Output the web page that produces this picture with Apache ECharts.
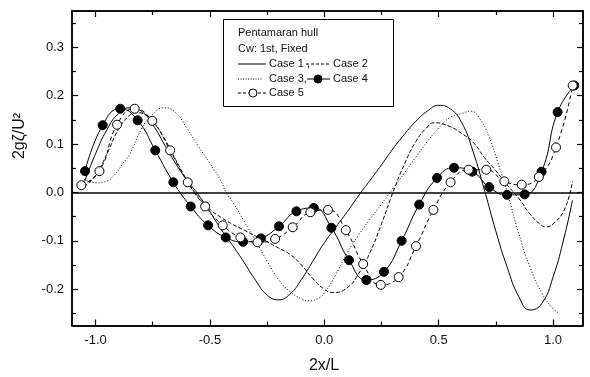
<!DOCTYPE html>
<html>
<head>
<meta charset="utf-8">
<script src="https://cdn.jsdelivr.net/npm/echarts@6/dist/echarts.min.js"></script>
<style>
html,body{margin:0;padding:0;background:#fff;}
#c{width:590px;height:377px;}
</style>
</head>
<body>
<div id="c"></div>
<script>
// ---- data ----
const case1X = [-1.05,-1.0,-0.95,-0.9,-0.85,-0.8,-0.75,-0.7,-0.65,-0.6,-0.55,-0.5,-0.45,-0.4,-0.35,-0.3,-0.25,-0.2,-0.15,-0.1,-0.05,0.0,0.05,0.1,0.16,0.2,0.25,0.3,0.35,0.4,0.45,0.5,0.55,0.6,0.65,0.7,0.75,0.8,0.85,0.9,0.95,1.0,1.05,1.085];
const case1Y = [0.02,0.08,0.13,0.163,0.175,0.168,0.14,0.1,0.06,0.025,-0.005,-0.04,-0.077,-0.11,-0.145,-0.182,-0.212,-0.222,-0.21,-0.18,-0.142,-0.104,-0.072,-0.04,0.0,0.025,0.057,0.09,0.12,0.147,0.168,0.18,0.173,0.145,0.085,0.005,-0.08,-0.155,-0.215,-0.243,-0.23,-0.175,-0.09,-0.016];

const case2X = [-1.05,-1.0,-0.95,-0.9,-0.85,-0.82,-0.78,-0.75,-0.7,-0.65,-0.6,-0.55,-0.5,-0.45,-0.4,-0.35,-0.3,-0.25,-0.2,-0.15,-0.1,-0.05,0.0,0.04,0.1,0.15,0.2,0.25,0.3,0.35,0.4,0.45,0.48,0.55,0.6,0.65,0.7,0.75,0.8,0.85,0.9,0.95,0.97,1.0,1.05,1.085];
const case2Y = [0.012,0.035,0.08,0.13,0.16,0.165,0.16,0.148,0.112,0.068,0.025,-0.01,-0.035,-0.052,-0.066,-0.078,-0.09,-0.102,-0.115,-0.128,-0.15,-0.178,-0.2,-0.207,-0.197,-0.168,-0.124,-0.065,0.0,0.058,0.105,0.135,0.144,0.136,0.122,0.104,0.072,0.045,0.015,-0.012,-0.045,-0.068,-0.071,-0.065,-0.035,0.023];

const case3X = [-1.05,-1.0,-0.96,-0.92,-0.88,-0.85,-0.8,-0.75,-0.7,-0.65,-0.6,-0.55,-0.5,-0.45,-0.43,-0.4,-0.35,-0.3,-0.25,-0.2,-0.15,-0.1,-0.07,-0.03,0.0,0.05,0.1,0.15,0.2,0.25,0.3,0.35,0.4,0.45,0.5,0.55,0.6,0.64,0.68,0.72,0.76,0.8,0.85,0.9,0.95,1.0,1.03];
const case3Y = [0.027,0.02,0.022,0.035,0.06,0.08,0.13,0.162,0.175,0.165,0.132,0.095,0.06,0.022,0.0,-0.02,-0.06,-0.1,-0.142,-0.18,-0.205,-0.22,-0.224,-0.22,-0.208,-0.17,-0.125,-0.088,-0.055,-0.024,0.008,0.04,0.073,0.105,0.133,0.155,0.163,0.168,0.152,0.115,0.06,0.0,-0.085,-0.155,-0.207,-0.24,-0.25];

const case4X = [-1.046,-0.969,-0.892,-0.816,-0.739,-0.660,-0.584,-0.508,-0.431,-0.355,-0.277,-0.198,-0.122,-0.046,0.031,0.108,0.184,0.261,0.338,0.415,0.493,0.567,0.647,0.721,0.799,0.876,0.950,1.020,1.093];
const case4Y = [0.044,0.139,0.173,0.149,0.087,0.021,-0.029,-0.068,-0.093,-0.102,-0.095,-0.070,-0.039,-0.032,-0.073,-0.140,-0.181,-0.164,-0.100,-0.025,0.030,0.051,0.043,0.011,-0.005,-0.004,0.043,0.166,0.221];

const case5X = [-1.062,-0.983,-0.906,-0.829,-0.752,-0.674,-0.597,-0.521,-0.444,-0.367,-0.292,-0.215,-0.138,-0.061,0.016,0.094,0.170,0.247,0.325,0.401,0.477,0.552,0.631,0.708,0.787,0.863,0.938,1.013,1.086];
const case5Y = [0.015,0.044,0.140,0.173,0.148,0.087,0.021,-0.029,-0.068,-0.093,-0.103,-0.096,-0.072,-0.041,-0.036,-0.078,-0.148,-0.191,-0.175,-0.111,-0.036,0.021,0.047,0.047,0.023,0.016,0.032,0.093,0.221];

const xMajor = [-1.0,-0.5,0.0,0.5,1.0];
const xMinor = [-0.75,-0.25,0.25,0.75];
const yMajor = [-0.2,-0.1,0.0,0.1,0.2,0.3];
const yMinor = [-0.25,-0.15,-0.05,0.05,0.15,0.25,0.35];

const xMin = -1.103, xMax = 1.131;
const yMin = -0.275, yMax = 0.375;

const zip = (xs, ys) => xs.map((x, i) => [x, ys[i]]);
const FONT = '"Liberation Sans", Arial, sans-serif';

function xAx(pos, ticks, len, labels) {
  return {
    type: 'value', position: pos, min: xMin, max: xMax, gridIndex: 0,
    axisLine: { show: true, onZero: false, lineStyle: { color: '#000', width: 1.5 } },
    axisTick: { show: true, inside: true, length: len, customValues: ticks, lineStyle: { color: '#000', width: 1.2 } },
    axisLabel: labels ? { show: true, customValues: ticks, formatter: v => v.toFixed(1), color: '#111', fontSize: 13, fontFamily: FONT, margin: 8 } : { show: false },
    splitLine: { show: false }
  };
}
function yAx(pos, ticks, len, labels) {
  return {
    type: 'value', position: pos, min: yMin, max: yMax, gridIndex: 0,
    axisLine: { show: true, onZero: false, lineStyle: { color: '#000', width: 1.5 } },
    axisTick: { show: true, inside: true, length: len, customValues: ticks, lineStyle: { color: '#000', width: 1.2 } },
    axisLabel: labels ? { show: true, customValues: ticks, formatter: v => v.toFixed(1), color: '#111', fontSize: 13, fontFamily: FONT, margin: 8 } : { show: false },
    splitLine: { show: false }
  };
}

const chart = echarts.init(document.getElementById('c'), null, { renderer: 'canvas' });
const lineBase = { type: 'line', xAxisIndex: 0, yAxisIndex: 0, smooth: 0.5, animation: false };
const T = (txt, x, y) => ({ type: 'text', position: [x, y], z: 11, style: { text: txt, fontSize: 11, fontFamily: FONT, fill: '#111', align: 'left', verticalAlign: 'middle' } });

chart.setOption({
  backgroundColor: '#fff',
  animation: false,
  grid: { left: 72, right: 7, top: 11, bottom: 51.5, containLabel: false },
  xAxis: [xAx('bottom', xMajor, 6, true), xAx('bottom', xMinor, 4, false), xAx('top', xMajor, 6, false), xAx('top', xMinor, 4, false)],
  yAxis: [yAx('left', yMajor, 6, true), yAx('left', yMinor, 4, false), yAx('right', yMajor, 6, false), yAx('right', yMinor, 4, false)],
  series: [
    Object.assign({}, lineBase, { name: 'Case 1', data: zip(case1X, case1Y), showSymbol: false, symbol: 'none',
      lineStyle: { color: '#000', width: 1, type: 'solid' },
      markLine: { silent: true, symbol: ['none', 'none'], label: { show: false }, lineStyle: { color: '#000', width: 1.6, type: 'solid' }, data: [{ yAxis: 0 }] } }),
    Object.assign({}, lineBase, { name: 'Case 2', data: zip(case2X, case2Y), showSymbol: false, symbol: 'none',
      lineStyle: { color: '#000', width: 1, type: [4, 2] } }),
    Object.assign({}, lineBase, { name: 'Case 3', data: zip(case3X, case3Y), showSymbol: false, symbol: 'none',
      lineStyle: { color: '#000', width: 1, type: [1, 2] } }),
    Object.assign({}, lineBase, { name: 'Case 4', data: zip(case4X, case4Y), symbol: 'circle', symbolSize: 9, showSymbol: true,
      itemStyle: { color: '#000', borderColor: '#000', borderWidth: 1 },
      lineStyle: { color: '#000', width: 1, type: 'solid' } }),
    Object.assign({}, lineBase, { name: 'Case 5', data: zip(case5X, case5Y), symbol: 'circle', symbolSize: 9, showSymbol: true,
      itemStyle: { color: '#fff', borderColor: '#000', borderWidth: 1 },
      lineStyle: { color: '#000', width: 1, type: [4, 3] } })
  ],
  graphic: [
    { type: 'text', position: [324, 366], style: { text: '2x/L', fontSize: 16, fontFamily: FONT, fill: '#111', align: 'center', verticalAlign: 'middle' } },
    { type: 'text', position: [20, 136], rotation: Math.PI / 2, style: { text: '2gζ/U²', fontSize: 16, fontFamily: FONT, fill: '#111', align: 'center', verticalAlign: 'middle' } },
    // legend box
    { type: 'rect', shape: { x: 223.5, y: 19.5, width: 170, height: 87 }, style: { fill: '#fff', stroke: '#000', lineWidth: 1 }, z: 10 },
    T('Pentamaran hull', 238, 33),
    T('Cw: 1st, Fixed', 238, 49),
    { type: 'line', z: 11, shape: { x1: 238, y1: 64, x2: 266, y2: 64 }, style: { stroke: '#000', lineWidth: 1 } },
    T('Case 1 ,', 269, 64),
    { type: 'line', z: 11, shape: { x1: 306, y1: 64, x2: 331, y2: 64 }, style: { stroke: '#000', lineWidth: 1, lineDash: [3, 2] } },
    T('Case 2', 333, 64),
    { type: 'line', z: 11, shape: { x1: 238, y1: 79, x2: 263, y2: 79 }, style: { stroke: '#000', lineWidth: 1, lineDash: [1, 1.5] } },
    T('Case 3,', 269, 79),
    { type: 'line', z: 11, shape: { x1: 307, y1: 79, x2: 330, y2: 79 }, style: { stroke: '#000', lineWidth: 1 } },
    { type: 'circle', z: 12, shape: { cx: 318, cy: 79, r: 4 }, style: { fill: '#000', stroke: '#000' } },
    T('Case 4', 333, 79),
    { type: 'line', z: 11, shape: { x1: 238, y1: 93, x2: 267, y2: 93 }, style: { stroke: '#000', lineWidth: 1, lineDash: [3, 2] } },
    { type: 'circle', z: 12, shape: { cx: 253, cy: 93, r: 4 }, style: { fill: '#fff', stroke: '#000', lineWidth: 1 } },
    T('Case 5', 269, 93)
  ]
});
</script>
</body>
</html>
